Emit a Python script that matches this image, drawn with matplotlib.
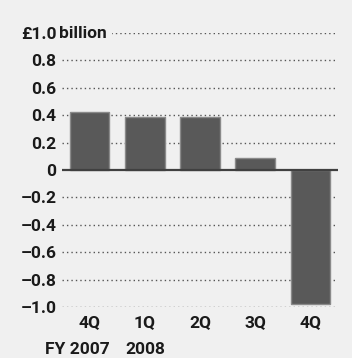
import matplotlib.pyplot as plt

quarters = ['4Q', '1Q', '2Q', '3Q', '4Q']
years = ['FY 2007', '2008']
profit = [0.42, 0.39, 0.39, 0.09, -0.98]
yticks = [1.0, 0.8, 0.6, 0.4, 0.2, 0, -0.2, -0.4, -0.6, -0.8, -1.0]
ylabels = ['£1.0', '0.8', '0.6', '0.4', '0.2', '0', '–0.2', '–0.4', '–0.6', '–0.8', '–1.0']

bg = '#f0f0f0'
plt.rcParams['font.family'] = ['Roboto', 'DejaVu Sans']
fs = 12.5

fig = plt.figure(figsize=(3.52, 3.58), dpi=100, facecolor=bg)
ax = fig.add_axes([62/352, (358-307)/358, 276/352, 274/358])
ax.set_facecolor(bg)

x = range(len(profit))
ax.bar(x, profit, width=0.72, color='#595959', edgecolor='#8a8a8a', linewidth=1, zorder=3)

for v in yticks:
    if v != 0:
        ax.axhline(v, color='#555555', lw=1, ls=(0, (1, 2.2)), zorder=1)
ax.axhline(0, color='#404040', lw=1.6, zorder=4)

ax.set_xlim(-0.5, 4.5)
ax.set_ylim(-1.0, 1.0)
ax.set_yticks(yticks)
ax.set_yticklabels(ylabels, fontsize=fs, fontweight='bold', color='#1a1a1a')
ax.set_xticks(list(x))
ax.set_xticklabels(quarters, fontsize=fs, fontweight='bold', color='#1a1a1a')
ax.tick_params(length=0, pad=4)
ax.tick_params(axis='x', pad=6)
for s in ax.spines.values():
    s.set_visible(False)

ax.text(-0.56, 1.0, 'billion ', fontsize=fs, fontweight='bold', color='#1a1a1a',
        ha='left', va='center', zorder=5,
        bbox=dict(facecolor=bg, edgecolor='none', pad=1))

fig.text(45/352, 1-349/358, years[0], fontsize=fs, fontweight='bold', color='#1a1a1a',
         ha='left', va='center')
fig.text(125/352, 1-349/358, years[1], fontsize=fs, fontweight='bold', color='#1a1a1a',
         ha='left', va='center')

fig.savefig('out.png', dpi=100, facecolor=bg)
